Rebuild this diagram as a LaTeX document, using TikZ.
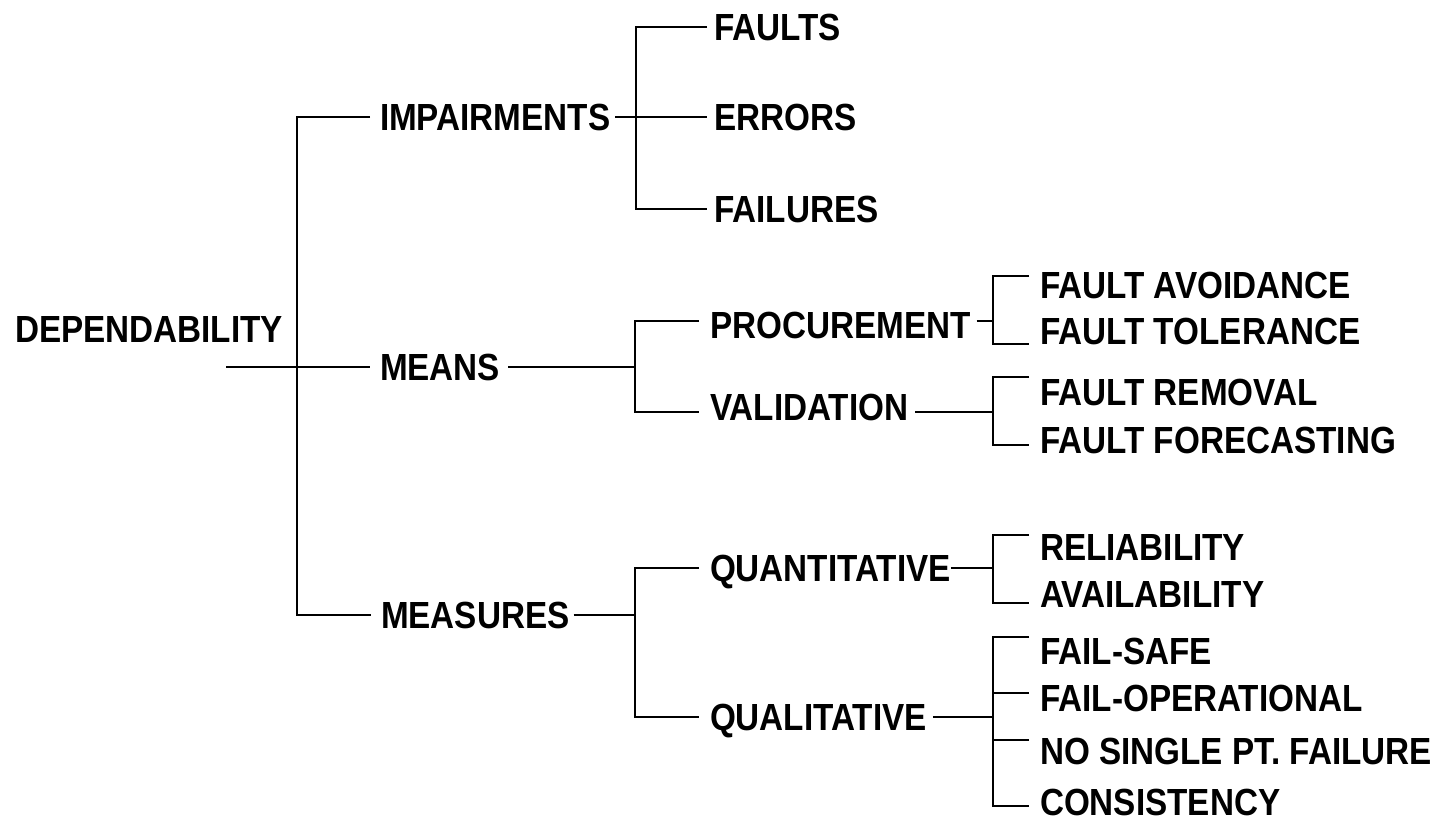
\documentclass[tikz,border=0pt]{standalone}
\usepackage{fontspec}
\setmainfont[FakeStretch=0.88]{Liberation Sans}
\usetikzlibrary{positioning}
\tikzset{
  term/.style={anchor=west,inner sep=0,outer sep=0,text height=13.5pt,text depth=0pt,
    font=\fontsize{18.9}{22}\selectfont\bfseries},
  branch/.style={line width=1.4pt,black},
}

\begin{document}
\begin{tikzpicture}[x=0.5pt,y=-0.5pt]
\useasboundingbox (0,0) rectangle (1451,821);
%
% root and first level
\node[term] (dep) at (15,329) {DEPENDABILITY};
\node[term] (imp) at (380,117) {IMPAIRMENTS};
\node[term] (means) at (380,367) {MEANS};
\node[term] (meas) at (381,615) {MEASURES};
% second level
\node[term] (faults) at (714,27) {FAULTS};
\node[term] (errors) at (714,117) {ERRORS};
\node[term] (failures) at (714,209) {FAILURES};
\node[term] (proc) at (710,325) {PROCUREMENT};
\node[term] (valid) at (710,407) {VALIDATION};
\node[term] (quant) at (710,568) {QUANTITATIVE};
\node[term] (qual) at (710,717) {QUALITATIVE};
% leaves
\foreach \n/\y/\t in {favoid/285/FAULT AVOIDANCE,ftol/331/FAULT TOLERANCE,
  frem/392/FAULT REMOVAL,ffore/440/FAULT FORECASTING,rel/547/RELIABILITY,
  avail/594/AVAILABILITY,fsafe/651/FAIL-SAFE,fop/698/FAIL-OPERATIONAL,
  nspf/751/NO SINGLE PT. FAILURE,cons/802/CONSISTENCY}
{\node[term] (\n) at (1040,\y) {\t};}
%
% line ends in front of the texts
\foreach \n/\dx/\dy in {faults/-3.5/0,errors/-3.5/0,failures/-3.5/0,
  proc/-5.5/2,valid/-5.5/-2.5,quant/-5.5/0,qual/-5.5/0,
  favoid/-5.5/4.5,ftol/-5.5/-6.5,frem/-5.5/7.5,ffore/-5.5/-2.5,
  rel/-5.5/6,avail/-5.5/-4.5,fsafe/-5.5/7,fop/-5.5/2.5,nspf/-5.5/5.5,cons/-5.5/-2}
{\coordinate (\n-in) at ([xshift=\dx pt,yshift=\dy pt]\n.west);}
%
% forks
\coordinate (dep-stub) at (226,367);
\coordinate (j-dep) at (297,367);
\coordinate (j-imp) at (636,117);
\coordinate (j-means) at (635,367);
\coordinate (j-meas) at (635,615);
\coordinate (j-proc) at (993,321);
\coordinate (j-valid) at (993,412);
\coordinate (j-quant) at (993,568);
\coordinate (j-qual) at (993,717);
%
\draw[branch] (dep-stub) -- ([xshift=-5pt]means.west);
\draw[branch,shorten <=5pt,shorten >=5pt] (imp.west) -| (j-dep) |- (meas.west);
%
\draw[branch] ([xshift=2.5pt]imp.east) -- (errors-in);
\draw[branch] (faults-in) -| (j-imp) |- (failures-in);
\draw[branch] ([xshift=4pt]means.east) -- (j-means);
\draw[branch] (proc-in) -| (j-means) |- (valid-in);
\draw[branch] ([xshift=2pt]meas.east) -- (j-meas);
\draw[branch] (quant-in) -| (j-meas) |- (qual-in);
%
\draw[branch] ([xshift=3pt,yshift=2pt]proc.east) -- (j-proc);
\draw[branch] (favoid-in) -| (j-proc) |- (ftol-in);
\draw[branch] ([xshift=3.5pt,yshift=-2.5pt]valid.east) -- (j-valid);
\draw[branch] (frem-in) -| (j-valid) |- (ffore-in);
\draw[branch] (quant.east) -- (j-quant);
\draw[branch] (rel-in) -| (j-quant) |- (avail-in);
\draw[branch] ([xshift=3pt]qual.east) -- (j-qual);
\draw[branch] (fsafe-in) -| (j-qual) |- (cons-in);
\foreach \n in {fop,nspf}
{\draw[branch] (\n-in) -- (\n-in -| j-qual);}
\end{tikzpicture}
\end{document}
